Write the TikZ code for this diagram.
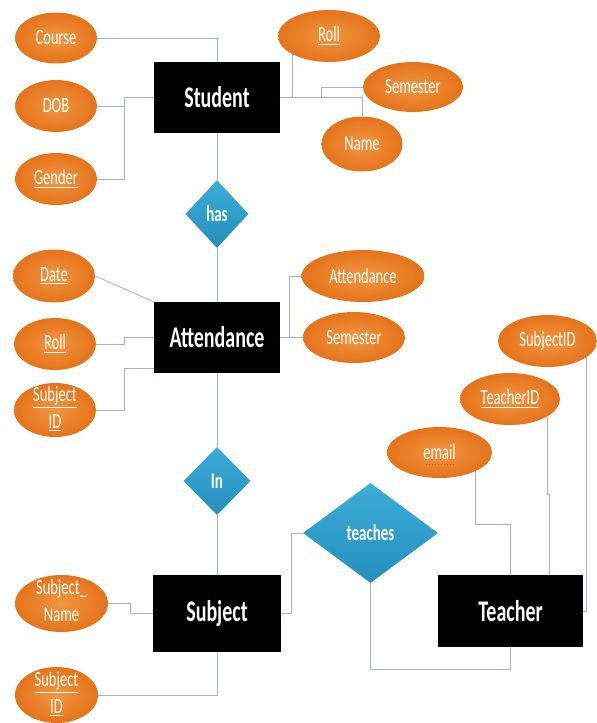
\documentclass[tikz,border=0pt]{standalone}
\usepackage{fontspec}
\setmainfont{Carlito}
\usepackage{graphicx}
\usetikzlibrary{shapes.geometric}
\definecolor{orA}{HTML}{F29642}
\definecolor{orB}{HTML}{E5731A}
\definecolor{blA}{HTML}{3CACD8}
\definecolor{blB}{HTML}{258EBD}
\definecolor{lnC}{HTML}{9FB3CC}
\newcommand{\vst}[1]{\scalebox{1}[1.5]{#1}}
\newcommand{\twol}[2]{\raisebox{-3.5pt}[0pt][0pt]{\begin{tabular}{@{}c@{}}#1\\[8pt]#2\end{tabular}}}
\begin{document}
\begin{tikzpicture}[x=1pt,y=-1pt,
 attr/.style={ellipse, shading=radial, inner color=orA, outer color=orB, inner sep=0pt, text=white, font=\fontsize{14.5}{17}\selectfont},
 ent/.style={rectangle, fill=black, text=white, inner sep=0pt, font=\fontsize{20}{24}\selectfont\bfseries},
 rel/.style={diamond, top color=blA, bottom color=blB, inner sep=0pt, text=white, font=\fontsize{15}{18}\selectfont\bfseries},
 conn/.style={draw=lnC, line width=0.8pt}]
\useasboundingbox (0,0) rectangle (597,723);
% entities
\node[ent, minimum width=126pt, minimum height=71pt] (student) at (217,97.5) {\vst{Student}};
\node[ent, minimum width=126pt, minimum height=71pt] (att) at (217,337.5) {\vst{Attendance}};
\node[ent, minimum width=128pt, minimum height=77pt] (subject) at (217,613.5) {\vst{Subject}};
\node[ent, minimum width=145pt, minimum height=72pt] (teacher) at (510.5,611) {\vst{Teacher}};
% relations
\node[rel, minimum width=63pt, minimum height=68pt] (has) at (217,214) {\vst{has}};
\node[rel, minimum width=67pt, minimum height=68pt] (in) at (217,481) {\vst{In}};
\node[rel, minimum width=135pt, minimum height=100pt] (teaches) at (370.5,533) {\vst{teaches}};
% attributes
\node[attr, minimum width=82pt, minimum height=51pt] (course) at (56,38) {\vst{Course}};
\node[attr, minimum width=82pt, minimum height=52pt] (dob) at (56,106) {\vst{DOB}};
\node[attr, minimum width=82pt, minimum height=52pt] (gender) at (56,179) {\vst{\underline{Gender}}};
\node[attr, minimum width=102pt, minimum height=52pt] (sroll) at (329,36) {\vst{\underline{Roll}}};
\node[attr, minimum width=100pt, minimum height=50pt] (ssem) at (413,87) {\vst{Semester}};
\node[attr, minimum width=81pt, minimum height=55pt] (sname) at (362,144) {\vst{Name}};
\node[attr, minimum width=82pt, minimum height=53pt] (date) at (54,276) {\vst{\underline{Date}}};
\node[attr, minimum width=82pt, minimum height=52pt] (aroll) at (55,344) {\vst{\underline{Roll}}};
\node[attr, minimum width=82pt, minimum height=54pt] (asid) at (55,410) {\twol{\vst{\underline{Subject}}}{\vst{\underline{ID}}}};
\node[attr, minimum width=123pt, minimum height=52pt] (aatt) at (363,276) {\vst{Attendance}};
\node[attr, minimum width=102pt, minimum height=51pt] (asem) at (354,337.5) {\vst{Semester}};
\node[attr, minimum width=99pt, minimum height=52pt] (sid3) at (547.5,341) {\vst{SubjectID}};
\node[attr, minimum width=100pt, minimum height=52pt] (tid) at (510,399) {\vst{\underline{TeacherID}}};
\node[attr, minimum width=105pt, minimum height=51pt] (email) at (439.5,452.5) {\vst{email}};
\node[attr, minimum width=93pt, minimum height=57pt] (sname2) at (61.5,603.5) {\twol{\vst{Subject\_}}{\vst{Name}}};
\node[attr, minimum width=83pt, minimum height=56pt] (sid2) at (56.5,695) {\twol{\vst{\underline{Subject}}}{\vst{\underline{ID}}}};
\draw[dotted, line width=1pt, draw=orB!70!red] ([xshift=-14pt,yshift=-12pt]email.center) -- ([xshift=14pt,yshift=-12pt]email.center);
% connectors
\draw[conn] (course.east) -| (student.north);
\draw[conn] (dob.east) -| ([xshift=-29pt]student.west) -- (student.west);
\draw[conn] (gender.east) -| ([xshift=-29pt]student.west);
\draw[conn] (student.east) -| (sname.north);
\draw[conn] ([xshift=-37pt,yshift=-18pt]sroll.center) |- (student.east);
\draw[conn] (ssem.west) -| ([xshift=41pt]student.east);
\draw[conn] (student.south) -- (has.north);
\draw[conn] (has.south) -- (att.north);
\draw[conn] (date.east) -- (att.north west);
\draw[conn] (aroll.east) -| ([xshift=-29pt]att.west) -- (att.west);
\draw[conn] (asid.east) -| ([xshift=-29pt,yshift=5pt]att.south west) -- ([yshift=5pt]att.south west);
\draw[conn] (att.east) -- (asem.west);
\draw[conn] (aatt.west) -| ([xshift=9pt]att.east);
\draw[conn] (att.south) -- (in.north);
\draw[conn] (in.south) -- (subject.north);
\draw[conn] (sname2.east) -| ([xshift=-22pt]subject.west) -- (subject.west);
\draw[conn] (sid2.east) -| (subject.south);
\draw[conn] (subject.east) -| ([xshift=-11pt]teaches.west) -- (teaches.west);
\draw[conn] (teaches.south) |- ([yshift=-22pt]teacher.south) -- (teacher.south);
\draw[conn] ([xshift=36pt,yshift=-18.5pt]email.center) |- ([yshift=50pt]teacher.north) -- (teacher.north);
\draw[conn] ([xshift=37pt,yshift=-17.5pt]tid.center) |- ([xshift=39pt,yshift=80pt]teacher.north) -- ([xshift=39pt]teacher.north);
\draw[conn] ([xshift=38.5pt,yshift=-16pt]sid3.center) |- (teacher.east);
\end{tikzpicture}
\end{document}
